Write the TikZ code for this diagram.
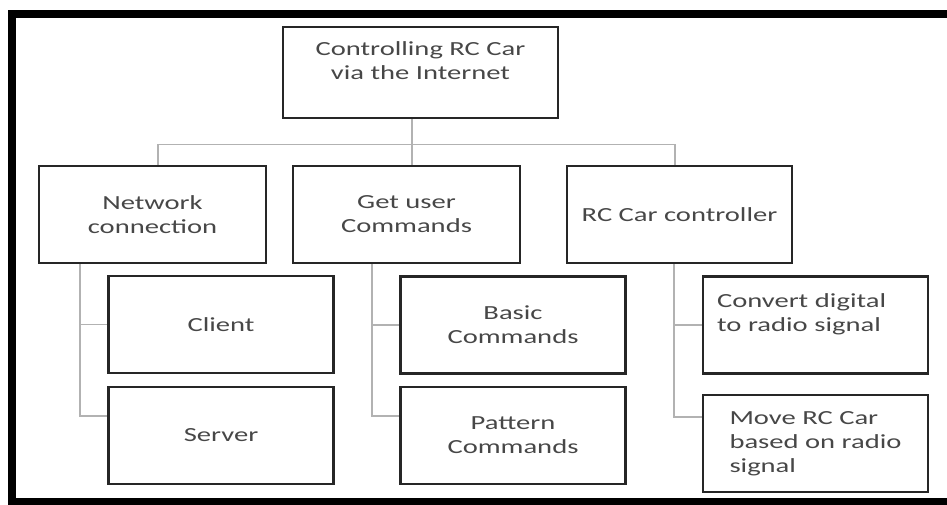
\documentclass[tikz,border=0pt]{standalone}
\usepackage{fontspec}
\setmainfont{Carlito}[FakeStretch=1.43]
\usetikzlibrary{positioning, calc}
\tikzset{
  blk/.style={draw=black!85, line width=2.6pt, minimum width=225pt, minimum height=97pt, inner sep=0pt, align=center, text=black!72, font=\fontsize{20}{24}\selectfont},
  lnk/.style={draw=black!30, line width=1.6pt},
  frm/.style={draw=black, line width=8pt, line join=miter}
}

\begin{document}
\begin{tikzpicture}[x=1pt, y=-1pt]
		\useasboundingbox (0,0) rectangle (947,505);
		\draw[frm] (947,14) -- (12,14) -- (12,502) -- (947,502);
		\node[blk, minimum width=275pt, minimum height=91pt] (root) at (420.5,72.5) {Controlling RC Car\\via the Internet\\\mbox{}};
		\node[blk, minimum width=227pt] (net) at (152.5,214.5) {Network\\connection};
		\node[blk, minimum width=227pt] (usr) at (406.5,214.5) {Get user\\Commands};
		\node[blk] (rcc) at (679.5,214.5) {RC Car controller};
		\node[blk] (cli) at (221,324.5) {Client};
		\node[blk] (srv) at (221,435.5) {Server};
		\node[blk] (bas) at (513,325) {Basic\\Commands};
		\node[blk] (pat) at (513,435.5) {Pattern\\Commands};
		\node[blk, align=left, text width=197pt] (cnv) at (815.5,325) {Convert digital\\to radio signal\\\mbox{}};
		\node[blk, align=left] (mov) at (815.5,443.5) {Move RC Car\\based on radio\\signal};
		\draw[lnk] ([xshift=-8.5pt]root.south) -- ([xshift=5.5pt]usr.north);
		\draw[lnk] ([xshift=5.5pt]net.north) -- ++(0,-20) -| ([xshift=-4.5pt]rcc.north);
		\draw[lnk] ([xshift=42pt]net.south west) |- (cli.west);
		\draw[lnk] ([xshift=42pt]net.south west) |- ([yshift=19.5pt]srv.west);
		\draw[lnk] ([xshift=80pt]usr.south west) |- (bas.west);
		\draw[lnk] ([xshift=80pt]usr.south west) |- ([yshift=19.5pt]pat.west);
		\draw[lnk] ([xshift=108pt]rcc.south west) |- (cnv.west);
		\draw[lnk] ([xshift=108pt]rcc.south west) |- ([yshift=26.5pt]mov.west);
	\end{tikzpicture}
\end{document}
